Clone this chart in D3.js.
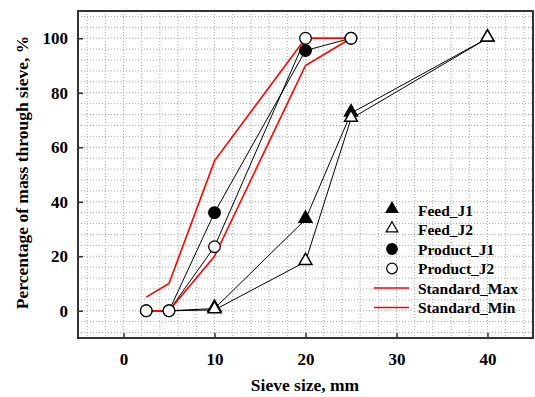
<!DOCTYPE html>
<html>
<head>
<meta charset="utf-8">
<script src="https://cdn.jsdelivr.net/npm/d3@7"></script>
<style>
  body { margin: 0; background: #fff; }
  text { font-family: "Liberation Serif", "Times New Roman", serif; font-weight: bold; }
</style>
</head>
<body>
<svg id="chart" width="535" height="397"></svg>
<script>
// sieve sizes (mm)
var sieve = [2.5, 5, 10, 20, 25, 40];
var sieveProd = [2.5, 5, 10, 20, 25];

// percentages passing
var feedJ1 = [0, 0, 0.8, 33.5, 72.5, 100];
var feedJ2 = [0, 0, 0.3, 18, 70.5, 100];
var productJ1 = [0, 0, 36, 95.5, 100];
var productJ2 = [0, 0, 23.5, 100, 100];
var standardMax = [5, 10, 55, 100, 100];
var standardMin = [0, 0, 20, 90, 100];

var xTicks = [0, 10, 20, 30, 40];
var yTicks = [0, 20, 40, 60, 80, 100];

var svg = d3.select("#chart");
var pL = 78, pR = 533, pT = 11, pB = 338;

var x = d3.scaleLinear().domain([-5, 45]).range([pL, pR]);
var y = d3.scaleLinear().domain([-10, 110]).range([pB, pT]);

// dotted minor grid
var g = svg.append("g");
g.selectAll(".gx").data(d3.range(-4, 45, 2)).enter()
  .append("line")
  .attr("x1", function(d) { return x(d); }).attr("x2", function(d) { return x(d); })
  .attr("y1", pT).attr("y2", pB)
  .attr("stroke", "#aaa").attr("stroke-width", 1).attr("stroke-dasharray", "1,2");
g.selectAll(".gy").data(d3.range(-8, 110, 4)).enter()
  .append("line")
  .attr("y1", function(d) { return y(d); }).attr("y2", function(d) { return y(d); })
  .attr("x1", pL).attr("x2", pR)
  .attr("stroke", "#aaa").attr("stroke-width", 1).attr("stroke-dasharray", "1,2");

// axes, ticks inward
var xAxis = svg.append("g").attr("transform", "translate(0," + pB + ")")
  .call(d3.axisBottom(x).tickValues(xTicks).tickSize(-5).tickPadding(15));
var yAxis = svg.append("g").attr("transform", "translate(" + pL + ",0)")
  .call(d3.axisLeft(y).tickValues(yTicks).tickSize(-5).tickPadding(10));
[xAxis, yAxis].forEach(function(a) {
  a.select(".domain").remove();
  a.selectAll(".tick line").attr("stroke", "#333").attr("stroke-width", 1.5);
  a.selectAll("text").attr("font-size", 17).attr("font-family", "Liberation Serif").attr("font-weight", "bold").attr("fill", "#000");
});

svg.append("rect").attr("x", pL).attr("y", pT)
  .attr("width", pR - pL).attr("height", pB - pT)
  .attr("fill", "none").attr("stroke", "#333").attr("stroke-width", 2);

function series(xs, ys) {
  return xs.map(function(d, i) { return [d, ys[i]]; });
}
var line = d3.line().x(function(d) { return x(d[0]); }).y(function(d) { return y(d[1]); });

function drawLine(data, color, w) {
  svg.append("path").datum(data).attr("d", line)
    .attr("fill", "none").attr("stroke", color).attr("stroke-width", w);
}

var tri = d3.symbol().type(d3.symbolTriangle).size(72);

function drawTri(data, fill) {
  svg.selectAll(null).data(data).enter().append("path")
    .attr("d", tri)
    .attr("transform", function(d) { return "translate(" + x(d[0]) + "," + (y(d[1]) - 1) + ")"; })
    .attr("fill", fill).attr("stroke", "#000").attr("stroke-width", 1.5);
}
function drawCirc(data, fill) {
  svg.selectAll(null).data(data).enter().append("circle")
    .attr("cx", function(d) { return x(d[0]); }).attr("cy", function(d) { return y(d[1]); })
    .attr("r", 5.8)
    .attr("fill", fill).attr("stroke", "#000").attr("stroke-width", 1.3);
}

var f1 = series(sieve, feedJ1), f2 = series(sieve, feedJ2);
var p1 = series(sieveProd, productJ1), p2 = series(sieveProd, productJ2);

drawLine(f1, "#000", 1);
drawLine(f2, "#000", 1);
drawLine(p1, "#000", 1);
drawLine(p2, "#000", 1);
drawLine(series(sieveProd, standardMax), "#ff0000", 1.6);
drawLine(series(sieveProd, standardMin), "#ff0000", 1.6);

drawTri(f1.slice(2), "#000");
drawTri(f2.slice(2), "#fff");
drawCirc(p1, "#000");
drawCirc(p2, "#fff");

// legend
var legendNames = ["Feed_J1", "Feed_J2", "Product_J1", "Product_J2", "Standard_Max", "Standard_Min"];
var lg = svg.append("g");
legendNames.forEach(function(name, i) {
  var ly = 210 + i * 19.5;
  if (i < 2) {
    lg.append("path").attr("d", d3.symbol().type(d3.symbolTriangle).size(60))
      .attr("transform", "translate(392," + (ly - 1) + ")")
      .attr("fill", i == 0 ? "#000" : "#fff").attr("stroke", "#000").attr("stroke-width", 1.2);
  } else if (i < 4) {
    lg.append("circle").attr("cx", 392).attr("cy", ly).attr("r", 5.3)
      .attr("fill", i == 2 ? "#000" : "#fff").attr("stroke", "#000").attr("stroke-width", 1.2);
  } else {
    lg.append("line").attr("x1", 374).attr("x2", 409).attr("y1", ly).attr("y2", ly)
      .attr("stroke", "#ff0000").attr("stroke-width", 1.6);
  }
  lg.append("text").attr("x", 418).attr("y", ly + 5.5).attr("font-size", 15.5).text(name);
});

// axis titles
svg.append("text").attr("x", 305).attr("y", 391)
  .attr("text-anchor", "middle").attr("font-size", 17.5).text("Sieve size, mm");
svg.append("text").attr("transform", "translate(28," + ((pT + pB) / 2 - 2) + ") rotate(-90)")
  .attr("text-anchor", "middle").attr("font-size", 17.5).text("Percentage of mass through sieve, %");
</script>
</body>
</html>
